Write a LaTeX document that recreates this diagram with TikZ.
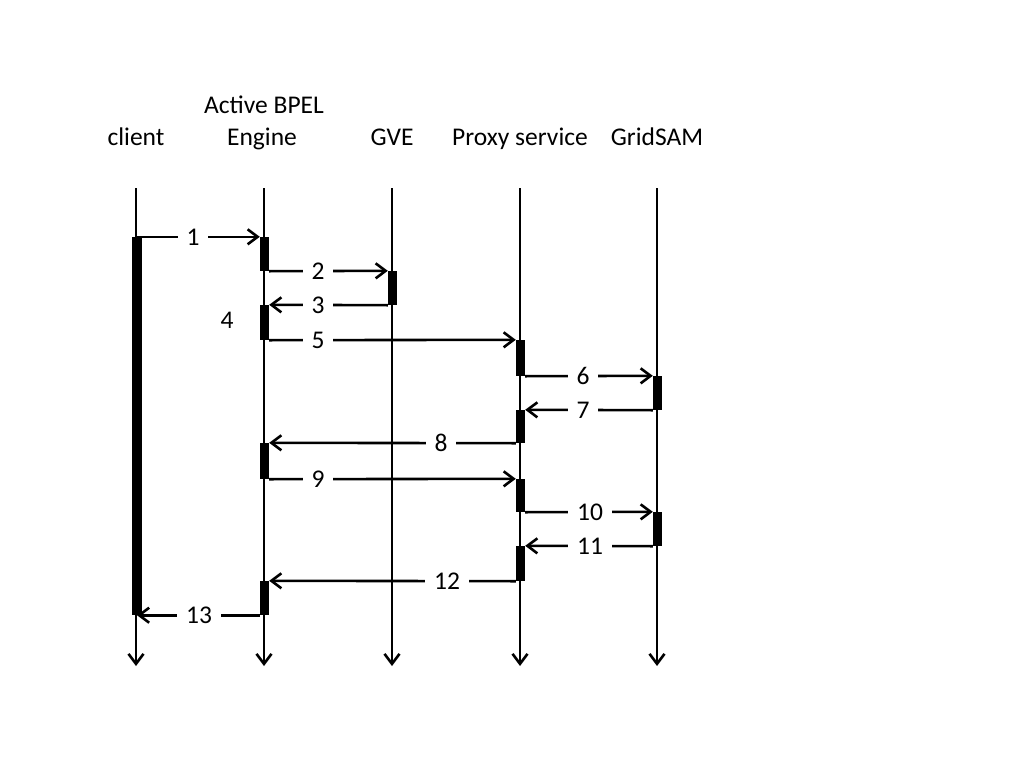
\documentclass[tikz,border=0pt]{standalone}
\usepackage{fontspec}
\setmainfont{Carlito}
\usetikzlibrary{arrows.meta}
\begin{document}
\begin{tikzpicture}[x=1pt,y=-1pt,
  head/.style={font=\fontsize{25.5}{30}\selectfont, anchor=base, inner sep=0pt},
  tip/.style={-{Straight Barb[length=10pt,width=15pt,line width=2.6pt]}},
  lifeline/.style={line width=2.6pt, tip},
  bar/.style={fill=black, draw=none, minimum width=9pt, inner sep=0pt},
  cbar/.style={bar, minimum width=10pt},
  msg/.style={line width=2.6pt, tip},
  lbl/.style={font=\fontsize{25.5}{28}\selectfont, fill=white, inner xsep=9pt, inner ysep=1pt}]
\useasboundingbox (0,0) rectangle (1024,768);
% headers
\node[head] (hclient) at (136,145) {client};
\node[head] (hbpel1) at (264,113) {Active BPEL};
\node[head] (hbpel2) at (262,145) {Engine};
\node[head] (hgve) at (392,145) {GVE};
\node[head] (hproxy) at (520,145) {Proxy service};
\node[head] (hgrid) at (657,145) {GridSAM};
% lifelines
\foreach \n/\x in {c/136, e/264, g/392, p/520, s/657}{
  \coordinate (\n top) at (\x,188);
  \coordinate (\n bot) at (\x,666);
  \draw[lifeline] (\n top) -- (\n bot);
}
% activation bars
\node[cbar, minimum height=378pt] (cb) at (137,426) {};
\node[bar, minimum height=34pt] (e1) at (264.5,254) {};
\node[bar, minimum height=34pt] (g1) at (392.5,288) {};
\node[bar, minimum height=35pt] (e2) at (264.5,322.5) {};
\node[bar, minimum height=36pt] (p1) at (520.5,358) {};
\node[bar, minimum height=34pt] (s1) at (657.5,393) {};
\node[bar, minimum height=33pt] (p2) at (520.5,426.5) {};
\node[bar, minimum height=36pt] (e3) at (264.5,461) {};
\node[bar, minimum height=33pt] (p3) at (520.5,495.5) {};
\node[bar, minimum height=34pt] (s2) at (657.5,529) {};
\node[bar, minimum height=35pt] (p4) at (520.5,563.5) {};
\node[bar, minimum height=34pt] (e4) at (264.5,598) {};
% messages
\draw[msg] (cb.north) -- (e1.north west);
\node[lbl] (l1) at (193,237) {1};
\draw[msg] (e1.south east) -- (g1.north west);
\node[lbl] (l2) at (318,271) {2};
\draw[msg] (g1.south west) -- (e2.north east);
\node[lbl] (l3) at (318,305) {3};
\node[lbl, fill=none] (l4) at (227,320) {4};
\draw[msg] (e2.south east) -- (p1.north west);
\node[lbl] (l5) at (318,340) {5};
\draw[msg] (p1.south east) -- (s1.north west);
\node[lbl] (l6) at (583,376) {6};
\draw[msg] (s1.south west) -- (p2.north east);
\node[lbl] (l7) at (583,410) {7};
\draw[msg] (p2.south west) -- (e3.north east);
\node[lbl] (l8) at (441,443) {8};
\draw[msg] (e3.south east) -- (p3.north west);
\node[lbl] (l9) at (318,479) {9};
\draw[msg] (p3.south east) -- (s2.north west);
\node[lbl] (l10) at (590,512) {10};
\draw[msg] (s2.south west) -- (p4.north east);
\node[lbl] (l11) at (590,546) {11};
\draw[msg] (p4.south west) -- (e4.north east);
\node[lbl] (l12) at (447,581) {12};
\draw[msg] (e4.south west) -- (cb.south);
\node[lbl] (l13) at (199,615) {13};
\end{tikzpicture}
\end{document}
